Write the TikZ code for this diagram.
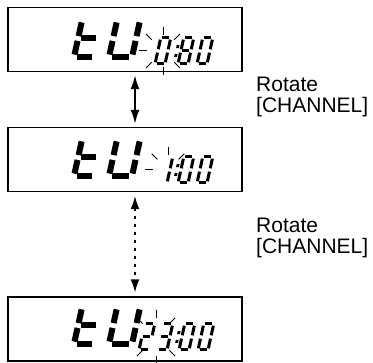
\documentclass[tikz,border=0pt]{standalone}
\usepackage{fontspec}
\setmainfont{Liberation Sans}
\usetikzlibrary{arrows.meta}

% seven segments of one LCD cell (width 1, height 2, origin bottom left)
\newcommand{\lcdsega}{(0.15,2)--(0.85,2)}
\newcommand{\lcdsegb}{(1,1.87)--(1,1.13)}
\newcommand{\lcdsegc}{(1,0.87)--(1,0.13)}
\newcommand{\lcdsegd}{(0.15,0)--(0.85,0)}
\newcommand{\lcdsege}{(0,0.87)--(0,0.13)}
\newcommand{\lcdsegf}{(0,1.87)--(0,1.13)}
\newcommand{\lcdsegg}{(0.15,1)--(0.85,1)}

% x, baseline y, cell width, half height, stroke, segments
\newcommand{\lcdglyph}[6]{%
  \begin{scope}[shift={(#1,#2)},x=#3pt,y=#4pt,xslant=0.22,line width=#5pt,line cap=butt]
    \foreach \s in {#6}{\draw \csname lcdseg\s\endcsname;}
  \end{scope}}
% x, baseline y, half height
\newcommand{\lcdcolon}[3]{%
  \begin{scope}[shift={(#1,#2)},x=1pt,y=#3pt,xslant=0.22]
    \fill (-1.4,0.55) rectangle (1.4,0.77);
    \fill (-1.4,1.23) rectangle (1.4,1.45);
  \end{scope}}
% centre x, centre y, angles, inner radius
\newcommand{\lcdblink}[4]{%
  \foreach \a in {#3}{\draw[lcdray] ([shift={(\a:#4)}]#1,#2) -- ([shift={(\a:#4+8)}]#1,#2);}}

\tikzset{
  lcdbox/.style={draw,line width=1.4pt,minimum width=234pt,minimum height=64pt,inner sep=0pt},
  lcdray/.style={line width=1pt},
  rotlabel/.style={anchor=north west,inner sep=0pt,align=left,font={\fontsize{21}{20.5}\selectfont}},
  flowarrow/.style={line width=1.6pt,{Latex[length=14pt,width=9pt]}-{Latex[length=14pt,width=9pt]},shorten <=3pt,shorten >=3pt}
}

\begin{document}
\begin{tikzpicture}[x=1pt,y=-1pt]
  \path[use as bounding box] (0,0) rectangle (373,363);

  \node[lcdbox] (lcdA) at (125,39.5) {};
  \node[lcdbox] (lcdB) at (125,159.5) {};
  \node[lcdbox] (lcdC) at (125,329) {};

  % tU -0:80
  \lcdglyph{74}{57}{21}{18.5}{6}{f,e,g,d}
  \lcdglyph{109}{57}{23}{18.5}{6}{f,e,b,c,d}
  \lcdglyph{155}{64}{10}{13}{3}{a,b,c,d,e,f}
  \lcdcolon{174}{64}{13}
  \lcdglyph{178}{64}{10}{13}{3}{a,b,c,d,e,f,g}
  \lcdglyph{197}{64}{10}{13}{3}{a,b,c,d,e,f}
  \lcdblink{163}{51}{225,270,315,180,135,90,45}{16}

  % tU -1:00
  \lcdglyph{74}{176}{21}{18.5}{6}{f,e,g,d}
  \lcdglyph{109}{176}{23}{18.5}{6}{f,e,b,c,d}
  \lcdglyph{157}{183}{10}{13}{3}{b,c}
  \lcdcolon{174}{183}{13}
  \lcdglyph{178}{183}{10}{13}{3}{a,b,c,d,e,f}
  \lcdglyph{197}{183}{10}{13}{3}{a,b,c,d,e,f}
  \lcdblink{168}{170}{225,270,315,180}{15}

  % tU 23:00
  \lcdglyph{74}{344}{21}{18.5}{6}{f,e,g,d}
  \lcdglyph{109}{344}{23}{18.5}{6}{f,e,b,c,d}
  \lcdglyph{139}{350}{10}{13}{3}{a,b,g,e,d}
  \lcdglyph{157}{350}{10}{13}{3}{a,b,g,c,d}
  \lcdcolon{175}{350}{13}
  \lcdglyph{179}{350}{10}{13}{3}{a,b,c,d,e,f}
  \lcdglyph{198}{350}{10}{13}{3}{a,b,c,d,e,f}
  \lcdblink{156}{337}{225,270,315,135,90,45}{19}

  \coordinate (flowaxis) at (135,0);
  \draw[flowarrow] (lcdA.south -| flowaxis) -- (lcdB.north -| flowaxis);
  \draw[flowarrow,dash pattern=on 3pt off 5pt,line width=2.6pt] (lcdB.south -| flowaxis) -- (lcdC.north -| flowaxis);

  \node[rotlabel] (rotA) at (256,77) {Rotate\\{}[CHANNEL]};
  \node[rotlabel] (rotB) at (256,218) {Rotate\\{}[CHANNEL]};
\end{tikzpicture}
\end{document}
